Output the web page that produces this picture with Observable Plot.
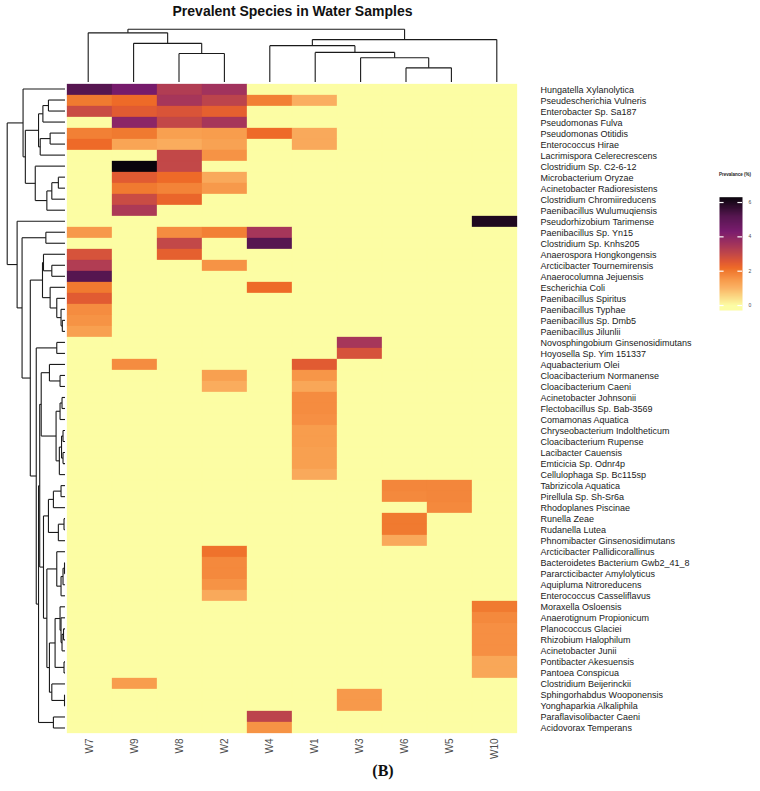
<!DOCTYPE html>
<html><head><meta charset="utf-8">
<script src="https://cdn.jsdelivr.net/npm/d3@7"></script>
<script src="https://cdn.jsdelivr.net/npm/@observablehq/plot@0.6"></script>
<style>
body{margin:0;background:#fff;}
#chart{position:relative;width:760px;height:791px;overflow:hidden;font-family:"Liberation Sans",Arial,sans-serif;background:#fff;}
#chart > *{position:absolute;left:0;top:0;}
#title{left:0;top:3px;width:585px;text-align:center;font-weight:bold;font-size:14px;line-height:16px;color:#111;}
#caption{left:333px;top:762px;width:100px;text-align:center;font-family:"Liberation Serif","Times New Roman",serif;font-weight:bold;font-size:16px;color:#111;}
#legtitle{left:719px;top:172px;font-weight:bold;font-size:4.5px;color:#222;white-space:nowrap;}
</style></head>
<body><div id="chart"></div>
<script>
const samples = ["W7","W9","W8","W2","W4","W1","W3","W6","W5","W10"];
const species = [
"Hungatella Xylanolytica","Pseudescherichia Vulneris","Enterobacter Sp. Sa187","Pseudomonas Fulva",
"Pseudomonas Otitidis","Enterococcus Hirae","Lacrimispora Celerecrescens","Clostridium Sp. C2-6-12",
"Microbacterium Oryzae","Acinetobacter Radioresistens","Clostridium Chromiireducens","Paenibacillus Wulumuqiensis",
"Pseudorhizobium Tarimense","Paenibacillus Sp. Yn15","Clostridium Sp. Knhs205","Anaerospora Hongkongensis",
"Arcticibacter Tournemirensis","Anaerocolumna Jejuensis","Escherichia Coli","Paenibacillus Spiritus",
"Paenibacillus Typhae","Paenibacillus Sp. Dmb5","Paenibacillus Jilunlii","Novosphingobium Ginsenosidimutans",
"Hoyosella Sp. Yim 151337","Aquabacterium Olei","Cloacibacterium Normanense","Cloacibacterium Caeni",
"Acinetobacter Johnsonii","Flectobacillus Sp. Bab-3569","Comamonas Aquatica","Chryseobacterium Indoltheticum",
"Cloacibacterium Rupense","Lacibacter Cauensis","Emticicia Sp. Odnr4p","Cellulophaga Sp. Bc115sp",
"Tabrizicola Aquatica","Pirellula Sp. Sh-Sr6a","Rhodoplanes Piscinae","Runella Zeae",
"Rudanella Lutea","Phnomibacter Ginsenosidimutans","Arcticibacter Pallidicorallinus","Bacteroidetes Bacterium Gwb2_41_8",
"Pararcticibacter Amylolyticus","Aquipluma Nitroreducens","Enterococcus Casseliflavus","Moraxella Osloensis",
"Anaerotignum Propionicum","Planococcus Glaciei","Rhizobium Halophilum","Acinetobacter Junii",
"Pontibacter Akesuensis","Pantoea Conspicua","Clostridium Beijerinckii","Sphingorhabdus Wooponensis",
"Yonghaparkia Alkaliphila","Paraflavisolibacter Caeni","Acidovorax Temperans"];
// columns: W7, W9, W8, W2, W4, W1, W3, W6, W5, W10
const prevalence = [
[5.2,4.4,3.3,3.6,0,0,0,0,0,0],
[2.0,2.2,3.5,3.1,1.9,1.1,0,0,0,0],
[2.9,2.5,2.65,2.4,0,0,0,0,0,0],
[0,4.0,3.0,3.5,0,0,0,0,0,0],
[1.9,2.0,1.4,1.45,2.2,1.2,0,0,0,0],
[2.2,1.3,1.15,1.35,0,1.2,0,0,0,0],
[0,0,3.0,1.6,0,0,0,0,0,0],
[0,6.3,3.0,0,0,0,0,0,0,0],
[0,2.5,2.2,1.2,0,0,0,0,0,0],
[0,2.0,1.85,1.5,0,0,0,0,0,0],
[0,2.9,2.3,0,0,0,0,0,0,0],
[0,3.4,0,0,0,0,0,0,0,0],
[0,0,0,0,0,0,0,0,0,6.0],
[1.5,0,1.7,1.9,3.5,0,0,0,0,0],
[0,0,3.0,0,5.2,0,0,0,0,0],
[2.7,0,2.4,0,0,0,0,0,0,0],
[3.3,0,0,1.6,0,0,0,0,0,0],
[5.2,0,0,0,0,0,0,0,0,0],
[2.0,0,0,0,2.2,0,0,0,0,0],
[2.5,0,0,0,0,0,0,0,0,0],
[1.7,0,0,0,0,0,0,0,0,0],
[1.6,0,0,0,0,0,0,0,0,0],
[1.4,0,0,0,0,0,0,0,0,0],
[0,0,0,0,0,0,3.5,0,0,0],
[0,0,0,0,0,0,2.7,0,0,0],
[0,1.7,0,0,0,2.5,0,0,0,0],
[0,0,0,1.4,0,1.55,0,0,0,0],
[0,0,0,1.15,0,1.25,0,0,0,0],
[0,0,0,0,0,1.7,0,0,0,0],
[0,0,0,0,0,1.7,0,0,0,0],
[0,0,0,0,0,1.65,0,0,0,0],
[0,0,0,0,0,1.45,0,0,0,0],
[0,0,0,0,0,1.45,0,0,0,0],
[0,0,0,0,0,1.4,0,0,0,0],
[0,0,0,0,0,1.4,0,0,0,0],
[0,0,0,0,0,1.2,0,0,0,0],
[0,0,0,0,0,0,0,1.8,1.8,0],
[0,0,0,0,0,0,0,1.75,1.8,0],
[0,0,0,0,0,0,0,0,1.75,0],
[0,0,0,0,0,0,0,2.0,0,0],
[0,0,0,0,0,0,0,2.0,0,0],
[0,0,0,0,0,0,0,1.2,0,0],
[0,0,0,2.1,0,0,0,0,0,0],
[0,0,0,1.75,0,0,0,0,0,0],
[0,0,0,1.75,0,0,0,0,0,0],
[0,0,0,1.6,0,0,0,0,0,0],
[0,0,0,1.2,0,0,0,0,0,0],
[0,0,0,0,0,0,0,0,0,2.0],
[0,0,0,0,0,0,0,0,0,1.75],
[0,0,0,0,0,0,0,0,0,1.65],
[0,0,0,0,0,0,0,0,0,1.65],
[0,0,0,0,0,0,0,0,0,1.65],
[0,0,0,0,0,0,0,0,0,1.25],
[0,0,0,0,0,0,0,0,0,1.25],
[0,1.45,0,0,0,0,0,0,0,0],
[0,0,0,0,0,0,1.5,0,0,0],
[0,0,0,0,0,0,1.5,0,0,0],
[0,0,0,0,3.1,0,0,0,0,0],
[0,0,0,0,1.6,0,0,0,0,0]];

// dendrograms: [height, left, right]; leaves are 1-based positions in display order
const colTree = [52.3, [48.7, 1, [38.3, 2, [28.3, 3, 4]]], [42, [36, 5, [29.3, 6, [24, 7, [14, 8, 9]]]], 10]];
const rowTree = [58.3,
  [42.3, 1, [40, [26.7, [22.3, [16.7, 2, 3], 4], [25, [15, 5, 6], 7]], [30, 8, [18.3, [13.3, [6.7, 9, 10], 11], 12]]]],
  [48.3, 13, [43.3, [19.3, 14, 15],
    [35,
      [22.7, [21.7, 16, [13.3, 17, 18]], [15, 19, [8.3, 20, [4, 21, [2.7, 22, 23]]]]],
      [29, [8.3, 24, 25],
        [26.7,
          [25.5,
            [24, [15.7, 26, [5, 27, 28]], [9, [5, [3, 29, 30], 31], [5.7, [3.5, [2, 32, 33], [2, 34, 35]], 36]]],
            [21.7,
              [16.7, [11.7, [4, 37, 38], 39], [6.7, [1, 40, 41], 42]],
              [18.3, [8.3, 43, [4, [2, [0.5, 44, 45], 46], 47]],
                [15.7, [10, [5, 48, [4, 49, [3, [1.5, 50, 51], 52]]], [1, 53, 54]], [13.3, 55, [0.5, 56, 57]]]]]],
          [11.7, 58, 59]]]]]]];

const legendTicks = [0, 2, 4, 6];
const colorStops = [0, 1.1, 1.4, 1.7, 2.0, 2.2, 2.6, 3.0, 3.5, 4.3, 5.2, 6.3];
const colorRange = ["#FCFDA4","#FAAE60","#F8A050","#F58C40","#F07A30","#EE6A28","#DC5636","#C24848","#A6365A","#7A1C6E","#561650","#0A040C"];

const colorScale = {type: "linear", domain: colorStops, range: colorRange, interpolate: "rgb", clamp: true};
const FONT = '"Liberation Sans", Arial, sans-serif';

function treeSegments(tree) {
  const segs = [];
  function walk(node) {
    if (typeof node === "number") return {pos: node - 0.5, h: 0};
    const [h, a, b] = node;
    const A = walk(a), B = walk(b);
    segs.push({p1: A.pos, h1: A.h, p2: A.pos, h2: h});
    segs.push({p1: B.pos, h1: B.h, p2: B.pos, h2: h});
    segs.push({p1: A.pos, h1: h, p2: B.pos, h2: h});
    return {pos: (A.pos + B.pos) / 2, h};
  }
  walk(tree);
  return segs;
}

const cells = [];
species.forEach((s, i) => samples.forEach((w, j) => cells.push({species: s, sample: w, value: prevalence[i][j]})));

const chart = document.getElementById("chart");

const heat = Plot.plot({
  width: 760, height: 791,
  marginLeft: 65, marginRight: 241, marginTop: 83, marginBottom: 58,
  x: {domain: samples, padding: 0},
  y: {domain: species, padding: 0},
  color: colorScale,
  style: {fontFamily: FONT, background: "white", overflow: "visible"},
  marks: [
    Plot.cell(cells, {x: "sample", y: "species", fill: "value", stroke: "value", strokeWidth: 0.3}),
    Plot.axisX({anchor: "bottom", tickRotate: -90, tickSize: 0, tickPadding: 5, fontSize: 10, label: null, color: "#4d4d4d"}),
    Plot.axisY({anchor: "right", tickSize: 0, tickPadding: 21, fontSize: 9, label: null, color: "#1a1a1a"})
  ]
});
chart.appendChild(heat);

const rowSegs = treeSegments(rowTree);
const rowDendro = Plot.plot({
  width: 70, height: 791,
  x: {domain: [0, rowTree[0]], range: [64.5, 6.7], axis: null},
  y: {domain: [0, species.length], range: [83, 733], axis: null},
  style: {background: "transparent"},
  marks: [Plot.link(rowSegs, {x1: "h1", y1: "p1", x2: "h2", y2: "p2", stroke: "#1a1a1a", strokeWidth: 1.1})]
});
chart.appendChild(rowDendro);

const colSegs = treeSegments(colTree);
const colDendro = Plot.plot({
  width: 760, height: 84,
  x: {domain: [0, samples.length], range: [65, 519], axis: null},
  y: {domain: [0, colTree[0]], range: [81.5, 28.7], axis: null},
  style: {background: "transparent"},
  marks: [Plot.link(colSegs, {x1: "p1", y1: "h1", x2: "p2", y2: "h2", stroke: "#1a1a1a", strokeWidth: 1.1})]
});
chart.appendChild(colDendro);

const legend = Plot.plot({
  width: 60, height: 160,
  x: {domain: [0, 1], range: [19, 42], axis: null},
  y: {domain: [-0.29, 6.31], range: [145, 31.7], axis: null},
  color: colorScale,
  style: {background: "transparent", fontFamily: FONT},
  marks: [
    Plot.raster({fill: (x, y) => y, x1: 0, x2: 1, y1: -0.29, y2: 6.31, width: 2, height: 300, imageRendering: "auto"}),
    Plot.ruleY(legendTicks, {x1: 0, x2: 0.2, stroke: "white", strokeWidth: 1.2}),
    Plot.ruleY(legendTicks, {x1: 0.8, x2: 1, stroke: "white", strokeWidth: 1.2}),
    Plot.text(legendTicks, {x: 1, y: d => d, text: d => String(d), dx: 6, textAnchor: "start", fontSize: 5, fill: "#4d4d4d"})
  ]
});
legend.style.left = "700px";
legend.style.top = "165px";
chart.appendChild(legend);

const title = document.createElement("div");
title.id = "title"; title.textContent = "Prevalent Species in Water Samples";
chart.appendChild(title);
const legTitle = document.createElement("div");
legTitle.id = "legtitle"; legTitle.textContent = "Prevalance (%)";
chart.appendChild(legTitle);
const caption = document.createElement("div");
caption.id = "caption"; caption.textContent = "(B)";
chart.appendChild(caption);
</script>
</body></html>
